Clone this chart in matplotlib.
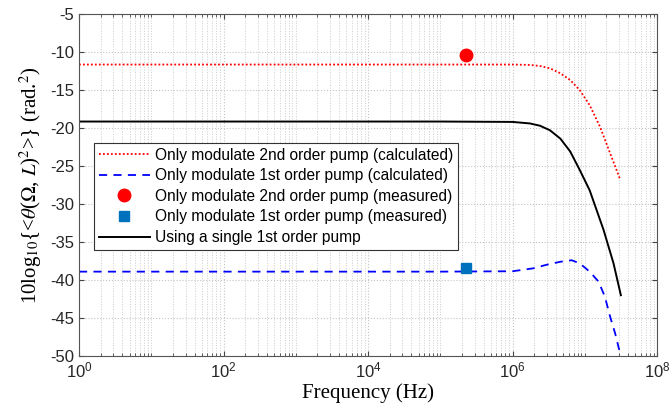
import numpy as np
import matplotlib.pyplot as plt
from matplotlib.ticker import LogLocator, NullFormatter

f_red = [1, 1e4, 1e5, 1e6, 1.74e6, 2.4e6, 3.3e6, 4.6e6, 6.3e6, 8.5e6, 1.17e7, 1.62e7, 2.24e7, 3.1e7]
y_red = [-11.65, -11.65, -11.65, -11.65, -11.7, -11.84, -12.15, -12.8, -13.7, -15.0, -17.0, -19.8, -23.3, -26.8]

f_blk = [1, 1e4, 1e5, 1e6, 1.74e6, 2.4e6, 3.3e6, 4.6e6, 6.3e6, 8.5e6, 1.17e7, 1.82e7, 2.5e7, 3.16e7]
y_blk = [-19.15, -19.15, -19.15, -19.2, -19.4, -19.7, -20.3, -21.4, -23.1, -25.5, -28.2, -33.4, -37.8, -42.0]

f_blu = [1, 1e4, 1e5, 1e6, 1.95e6, 2.95e6, 4.6e6, 6.6e6, 8.5e6, 1.17e7, 1.55e7, 1.9e7, 2.24e7, 2.63e7, 3.0e7]
y_blu = [-38.9, -38.9, -38.9, -38.85, -38.46, -38.0, -37.6, -37.4, -37.8, -38.9, -40.2, -42.2, -44.8, -47.0, -49.2]

f_meas = [2.25e5]
y_meas_red = [-10.4]
y_meas_blu = [-38.4]

plt.rcParams['font.family'] = ['Liberation Sans', 'DejaVu Sans']
plt.rcParams['mathtext.fontset'] = 'stix'
plt.rcParams['axes.unicode_minus'] = False

fig = plt.figure(figsize=(6.71, 4.15), dpi=100)
ax = fig.add_axes([79 / 671, 1 - 356 / 415, 578 / 671, 342 / 415])

ax.plot(f_red, y_red, color='red', ls=(0, (1, 1.2)), lw=1.3,
        label='Only modulate 2nd order pump (calculated)')
ax.plot(f_blu, y_blu, color='blue', ls=(0, (4.5, 3.5)), lw=1.3,
        label='Only modulate 1st order pump (calculated)')
ax.plot(f_meas, y_meas_red, 'o', color='red', ms=9, ls='none',
        label='Only modulate 2nd order pump (measured)')
ax.plot(f_meas, y_meas_blu, 's', color='#0072BD', ms=7, ls='none',
        label='Only modulate 1st order pump (measured)')
ax.plot(f_blk, y_blk, color='black', lw=1.4, label='Using a single 1st order pump')

ax.set_xscale('log')
ax.set_xlim(1, 1e8)
ax.set_ylim(-50, -5)
ax.set_yticks(np.arange(-50, -4, 5))
ax.set_xticks([1, 1e2, 1e4, 1e6, 1e8])
ax.xaxis.set_minor_locator(LogLocator(base=10, subs=np.arange(1, 10), numticks=20))
ax.xaxis.set_minor_formatter(NullFormatter())

ax.grid(True, which='major', color='#c4c4c4', ls=':', lw=0.8)
ax.grid(True, which='minor', color='#cccccc', ls=':', lw=0.7)
ax.tick_params(which='both', direction='in', top=True, right=True, color='#444444')
ax.tick_params(labelsize=12, labelcolor='#262626')
for s in ax.spines.values():
    s.set_color('#555555')
    s.set_linewidth(0.8)

ax.set_xlabel('Frequency (Hz)', family='Liberation Serif', fontsize=15, labelpad=2)
ax.set_ylabel('10log$_{10}${<$\\theta$($\\Omega$, $L$)$^2$>} (rad.$^2$)',
              family='Liberation Serif', fontsize=15, labelpad=4)

leg = ax.legend(loc='upper left', bbox_to_anchor=(0.026, 0.623),
                prop={'family': 'Liberation Sans', 'size': 11.2},
                frameon=True, fancybox=False, edgecolor='#333333', framealpha=1,
                handlelength=3.3, handletextpad=0.35, borderpad=0.3, labelspacing=0.36,
                borderaxespad=0)
leg.get_frame().set_linewidth(0.8)

fig.savefig('out.png', dpi=100)
